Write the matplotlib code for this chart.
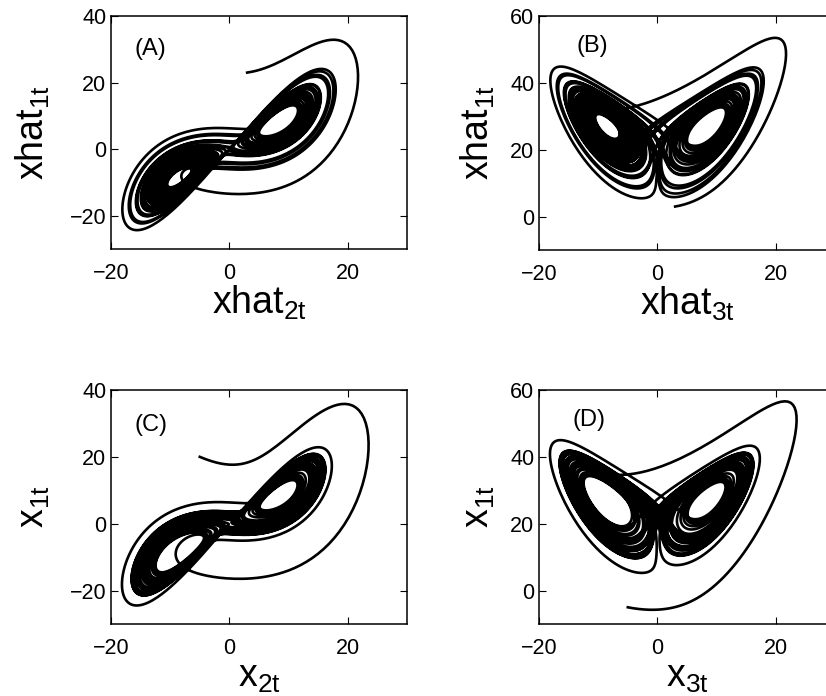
import numpy as np
import matplotlib
matplotlib.use("Agg")
import matplotlib.pyplot as plt

plt.rcParams['font.family'] = ['Liberation Sans', 'DejaVu Sans']
plt.rcParams['mathtext.fontset'] = 'custom'
plt.rcParams['mathtext.rm'] = 'Liberation Sans'
plt.rcParams['mathtext.it'] = 'Liberation Sans'

# Lorenz system parameters (classic attractor shown in all panels)
sigma = 10.0
rho = 28.0
beta = 8.0 / 3.0
# initial states read from the start of each transient in the picture
init_true = [-5.0, 20.0, -5.0]     # panels C, D
init_hat = [3.0, 23.0, 3.0]        # panels A, B
t_end = 40.0
dt = 0.004

panel_letters = ["(A)", "(B)", "(C)", "(D)"]
xlabels = [r"xhat$_{\mathregular{2t}}$", r"xhat$_{\mathregular{3t}}$",
           r"x$_{\mathregular{2t}}$", r"x$_{\mathregular{3t}}$"]
ylabels = [r"xhat$_{\mathregular{1t}}$", r"xhat$_{\mathregular{1t}}$",
           r"x$_{\mathregular{1t}}$", r"x$_{\mathregular{1t}}$"]
xlims = [(-20, 30)] * 4
ylims = [(-30, 40), (-10, 60), (-30, 40), (-10, 60)]
xticks = [-20, 0, 20]
xticklabels = ["\u221220", "0", "20"]
yticks_xy = [-20, 0, 20, 40]
yticklabels_xy = ["\u221220", "0", "20", "40"]
yticks_xz = [0, 20, 40, 60]
yticklabels_xz = ["0", "20", "40", "60"]


def lorenz(s):
    x, y, z = s
    return np.array([sigma * (y - x), x * (rho - z) - y, x * y - beta * z])


def integrate(s0):
    n = int(t_end / dt)
    out = np.empty((n + 1, 3))
    s = np.array(s0, float)
    out[0] = s
    for i in range(n):
        k1 = lorenz(s)
        k2 = lorenz(s + 0.5 * dt * k1)
        k3 = lorenz(s + 0.5 * dt * k2)
        k4 = lorenz(s + dt * k3)
        s = s + dt / 6 * (k1 + 2 * k2 + 2 * k3 + k4)
        out[i + 1] = s
    return out


traj_hat = integrate(init_hat)
traj_true = integrate(init_true)

fig = plt.figure(figsize=(8.26, 6.96), dpi=100)
W, H = 826, 696
boxes = [(111, 16, 296, 233), (539, 16, 296, 234),
         (111, 390, 296, 234), (539, 390, 296, 234)]
series = [(traj_hat[:, 0], traj_hat[:, 1]), (traj_hat[:, 0], traj_hat[:, 2]),
          (traj_true[:, 0], traj_true[:, 1]), (traj_true[:, 0], traj_true[:, 2])]
letter_pos = [(-16, 30), (-13.7, 51), (-16, 29.5), (-14.4, 51)]
ylabel_offset_px = [59, 42, 59, 42]

for i in range(4):
    l, t, w, h = boxes[i]
    ax = fig.add_axes([l / W, 1 - (t + h) / H, w / W, h / H])
    xs, ys = series[i]
    ax.plot(xs, ys, color='black', lw=1.9)
    ax.set_xlim(*xlims[i])
    ax.set_ylim(*ylims[i])
    ax.set_xticks(xticks)
    ax.set_xticklabels(xticklabels)
    if i in (0, 2):
        ax.set_yticks(yticks_xy)
        ax.set_yticklabels(yticklabels_xy)
    else:
        ax.set_yticks(yticks_xz)
        ax.set_yticklabels(yticklabels_xz)
    ax.tick_params(direction='in', length=5, width=0.8, labelsize=15.5,
                   top=True, right=True)
    ax.tick_params(axis='x', pad=10)
    ax.tick_params(axis='y', pad=3.5)
    for sp in ax.spines.values():
        sp.set_linewidth(1.1)
    ax.set_xlabel(xlabels[i], fontsize=27, labelpad=0)
    ax.set_ylabel(ylabels[i], fontsize=27)
    ax.yaxis.set_label_coords(-ylabel_offset_px[i] / w, 0.5)
    ax.text(letter_pos[i][0], letter_pos[i][1], panel_letters[i],
            fontsize=17, ha='left', va='center')

fig.savefig("out.png", dpi=100)
